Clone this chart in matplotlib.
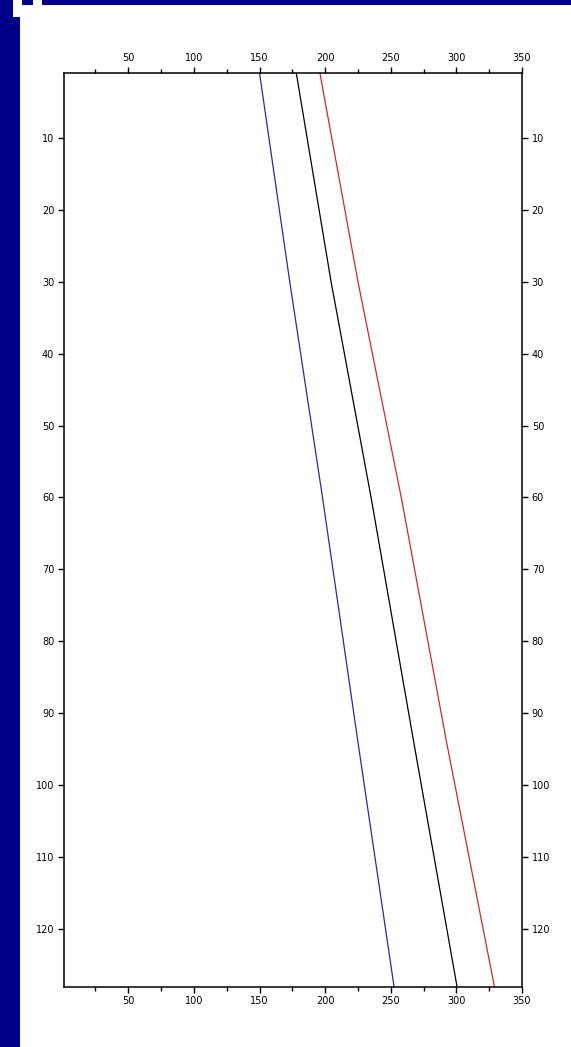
import matplotlib.pyplot as plt
from matplotlib.patches import Rectangle
from matplotlib.ticker import MultipleLocator

# depth (y, increasing downward) and the three profiles (x)
depth = [1, 30, 60, 94, 128]
blue_x = [150, 173, 198, 225, 252.5]
black_x = [178, 204.5, 235, 267.5, 300.5]
red_x = [196, 225, 258, 292.5, 329]

fig = plt.figure(figsize=(5.71, 10.47), dpi=100)
fig.patch.set_facecolor('white')

# slide background bits (blue strips at the left and top)
navy = '#000088'
W, H = 571.0, 1047.0
for x0, y0, w, h in [(0, 0, 20, 1030), (0, 1030, 13, 17), (22, 1042, 11, 5), (42, 1042, 529, 5)]:
    fig.patches.append(Rectangle((x0 / W, y0 / H), w / W, h / H, transform=fig.transFigure,
                                 facecolor=navy, edgecolor='none', zorder=0))

ax = fig.add_axes([64 / W, 1 - 986.7 / H, (522 - 64) / W, (986.7 - 73) / H])
ax.plot(blue_x, depth, color='#2828a8', lw=0.9)
ax.plot(black_x, depth, color='black', lw=0.9)
ax.plot(red_x, depth, color='#d02828', lw=0.9)

ax.set_xlim(1, 350)
ax.set_ylim(128, 1)

ax.xaxis.set_major_locator(MultipleLocator(50))
ax.xaxis.set_minor_locator(MultipleLocator(25))
ax.yaxis.set_major_locator(MultipleLocator(10))

ax.tick_params(which='both', direction='out', top=True, bottom=True, left=True, right=True,
               labeltop=True, labelbottom=True, labelleft=True, labelright=True,
               labelsize=7, width=1.0, pad=3)
ax.tick_params(which='major', length=4)
ax.tick_params(which='minor', length=3)

for s in ax.spines.values():
    s.set_linewidth(1.1)

fig.savefig('out.png', dpi=100, facecolor='white')
